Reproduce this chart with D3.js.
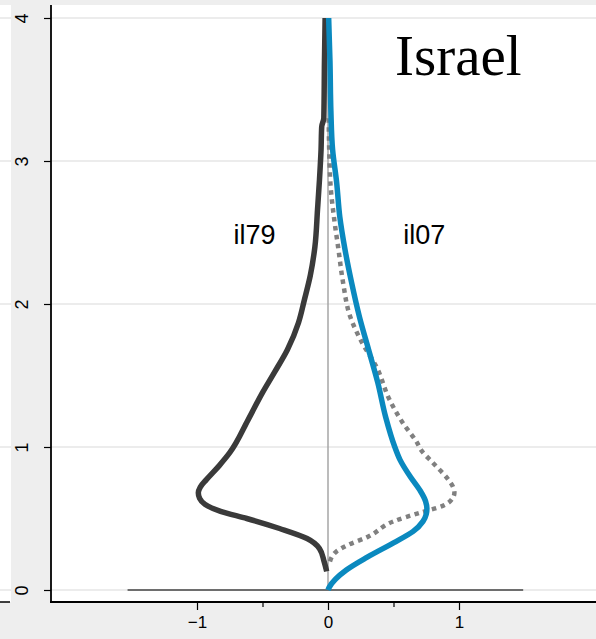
<!DOCTYPE html>
<html>
<head>
<meta charset="utf-8">
<script src="https://cdn.jsdelivr.net/npm/d3@7"></script>
<style>
  html, body { margin: 0; padding: 0; background: #eeeeee; }
  svg { display: block; }
</style>
</head>
<body>
<script>
// ---------- data ----------
const yTicks = [0, 1, 2, 3, 4];
const xTicks = [-1, 0, 1];
const xMinorTicks = [-0.5, 0.5];
const title = "Israel";
const seriesNames = ["il79", "il07"];

// il79 density (drawn mirrored to the left): [value, density]
const il79Y = [0.13, 0.20, 0.29, 0.36, 0.43, 0.50, 0.55, 0.60, 0.64, 0.68, 0.72, 0.77, 0.87, 0.96, 1.19, 1.38, 1.52, 1.68, 1.87, 2.03, 2.20, 2.40, 2.66, 2.87, 3.08, 3.24, 3.30, 3.70, 4.00];
const il79D = [0.01, 0.03, 0.065, 0.16, 0.37, 0.62, 0.82, 0.94, 0.98, 0.99, 0.975, 0.93, 0.83, 0.75, 0.61, 0.50, 0.41, 0.31, 0.225, 0.18, 0.135, 0.10, 0.08, 0.065, 0.053, 0.048, 0.032, 0.027, 0.022];

// il07 density (right side, solid blue)
const il07Y = [0.00, 0.02, 0.14, 0.23, 0.33, 0.41, 0.48, 0.53, 0.57, 0.62, 0.70, 0.79, 0.91, 1.00, 1.21, 1.45, 1.68, 1.91, 2.15, 2.38, 2.61, 2.85, 3.08, 3.35, 3.70, 4.00];
const il07D = [0.00, 0.01, 0.14, 0.30, 0.50, 0.65, 0.725, 0.75, 0.755, 0.745, 0.70, 0.63, 0.55, 0.51, 0.44, 0.38, 0.31, 0.24, 0.18, 0.13, 0.09, 0.066, 0.035, 0.022, 0.015, 0.005];

// il79 reference density (right side, dotted gray)
const il79refY = [0.20, 0.27, 0.31, 0.37, 0.48, 0.54, 0.59, 0.64, 0.68, 0.72, 0.77, 0.89, 0.98, 1.03, 1.17, 1.33, 1.56, 1.73, 1.91, 2.15, 2.38, 2.61, 2.85, 3.30];
const il79refD = [0.015, 0.066, 0.14, 0.30, 0.50, 0.70, 0.88, 0.95, 0.965, 0.955, 0.92, 0.80, 0.71, 0.68, 0.57, 0.47, 0.37, 0.26, 0.17, 0.115, 0.08, 0.045, 0.018, 0.005];

// zero baseline extent
const baseX = [-1.53, 1.49];

// ---------- layout ----------
const W = 596, H = 639;
const plot = { left: 51, right: 596, top: 5, bottom: 602 };

const x = d3.scaleLinear().domain([-1, 1]).range([197, 459]);
const y = d3.scaleLinear().domain([0, 4]).range([590, 18]);

const svg = d3.select("body").append("svg").attr("width", W).attr("height", H);

svg.append("rect").attr("width", W).attr("height", H).attr("fill", "#eeeeee");
// neighbouring panel strip on the left
svg.append("rect").attr("x", 0).attr("y", plot.top).attr("width", 11).attr("height", plot.bottom - plot.top).attr("fill", "#ffffff");
svg.append("rect").attr("x", plot.left).attr("y", plot.top)
  .attr("width", plot.right - plot.left).attr("height", plot.bottom - plot.top).attr("fill", "#ffffff");

// grid lines
const grid = svg.append("g");
yTicks.forEach(t => {
  grid.append("line").attr("x1", plot.left).attr("x2", plot.right)
    .attr("y1", y(t)).attr("y2", y(t)).attr("stroke", "#e6e6e6").attr("stroke-width", 1.5);
  grid.append("line").attr("x1", 0).attr("x2", 11)
    .attr("y1", y(t)).attr("y2", y(t)).attr("stroke", "#e6e6e6").attr("stroke-width", 1.5);
});
svg.append("line").attr("x1", 0).attr("x2", 10).attr("y1", plot.bottom).attr("y2", plot.bottom)
  .attr("stroke", "#000").attr("stroke-width", 1.5);

// vertical zero line
svg.append("line").attr("x1", x(0)).attr("x2", x(0)).attr("y1", y(4)).attr("y2", y(0))
  .attr("stroke", "#a6a6a6").attr("stroke-width", 1.5);
// horizontal zero line
svg.append("line").attr("x1", x(baseX[0])).attr("x2", x(baseX[1])).attr("y1", y(0)).attr("y2", y(0))
  .attr("stroke", "#6e6e6e").attr("stroke-width", 2);

// curves
const line = d3.line().x(d => x(d[0])).y(d => y(d[1])).curve(d3.curveMonotoneY);
const il79Pts = il79Y.map((v, i) => [-il79D[i], v]);
const il07Pts = il07Y.map((v, i) => [il07D[i], v]);
const refPts = il79refY.map((v, i) => [il79refD[i], v]);

svg.append("path").attr("d", line(refPts)).attr("fill", "none")
  .attr("stroke", "#808080").attr("stroke-width", 4.5).attr("stroke-dasharray", "4.5,4.5");
svg.append("path").attr("d", line(il79Pts)).attr("fill", "none")
  .attr("stroke", "#3a3a3a").attr("stroke-width", 5.5).attr("stroke-linejoin", "round");
svg.append("path").attr("d", line(il07Pts)).attr("fill", "none")
  .attr("stroke", "#0a89bf").attr("stroke-width", 5.5).attr("stroke-linejoin", "round");

// axes
const yAxis = svg.append("g").attr("transform", `translate(${plot.left},0)`)
  .call(d3.axisLeft(y).tickValues(yTicks).tickSize(7).tickSizeOuter(0).tickFormat(d3.format("d")));
yAxis.select(".domain").remove();
yAxis.selectAll(".tick line").attr("stroke", "#000").attr("stroke-width", 1.2);
yAxis.selectAll(".tick text").attr("font-family", "Liberation Sans, Arial, sans-serif")
  .attr("font-size", 18).attr("fill", "#000")
  .attr("text-anchor", "middle").attr("x", null).attr("dy", null)
  .attr("transform", "translate(-29,0) rotate(-90)").attr("dominant-baseline", "central");
svg.append("line").attr("x1", plot.left).attr("x2", plot.left).attr("y1", plot.top).attr("y2", plot.bottom + 1)
  .attr("stroke", "#000").attr("stroke-width", 1.8);

const xAxis = svg.append("g").attr("transform", `translate(0,${plot.bottom})`)
  .call(d3.axisBottom(x).tickValues(xTicks).tickSize(8).tickSizeOuter(0).tickFormat(d3.format("d")));
xAxis.select(".domain").remove();
xAxis.selectAll(".tick line").attr("stroke", "#000").attr("stroke-width", 1.2);
xAxis.selectAll(".tick text").attr("font-family", "Liberation Sans, Arial, sans-serif")
  .attr("font-size", 17).attr("fill", "#000").attr("y", 14);
const xMinor = svg.append("g").attr("transform", `translate(0,${plot.bottom})`)
  .call(d3.axisBottom(x).tickValues(xMinorTicks).tickSize(5).tickSizeOuter(0).tickFormat(""));
xMinor.select(".domain").remove();
xMinor.selectAll(".tick line").attr("stroke", "#000").attr("stroke-width", 1.2);
svg.append("line").attr("x1", plot.left - 1).attr("x2", plot.right).attr("y1", plot.bottom).attr("y2", plot.bottom)
  .attr("stroke", "#000").attr("stroke-width", 1.8);

// labels
svg.append("text").attr("x", 395).attr("y", 75).text(title)
  .attr("font-family", "Liberation Serif, Times New Roman, serif").attr("font-size", 57).attr("fill", "#000");
svg.append("text").attr("x", x(-0.56)).attr("y", 244).attr("text-anchor", "middle").text(seriesNames[0])
  .attr("font-family", "Liberation Sans, Arial, sans-serif").attr("font-size", 27).attr("fill", "#000");
svg.append("text").attr("x", x(0.735)).attr("y", 244).attr("text-anchor", "middle").text(seriesNames[1])
  .attr("font-family", "Liberation Sans, Arial, sans-serif").attr("font-size", 27).attr("fill", "#000");
</script>
</body>
</html>
